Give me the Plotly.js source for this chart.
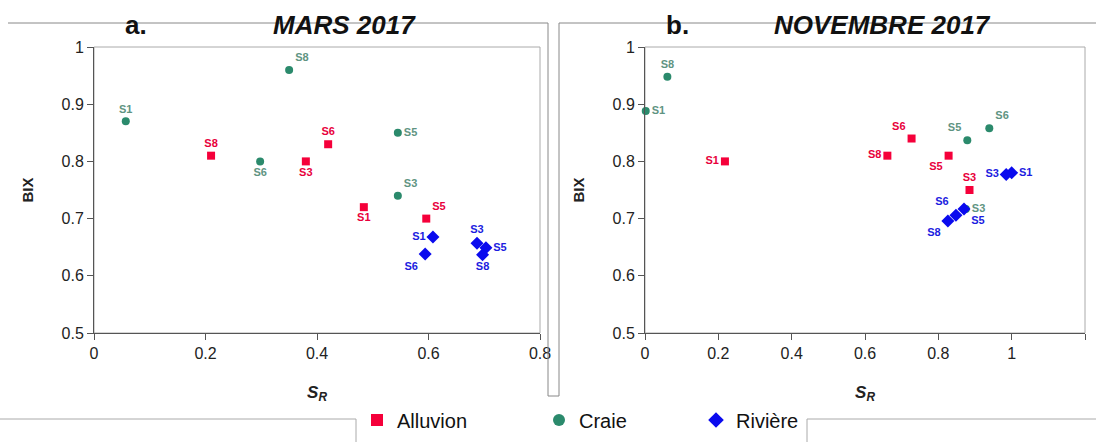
<!DOCTYPE html>
<html>
<head>
<meta charset="utf-8">
<script src="https://cdn.plot.ly/plotly-3.0.1.min.js"></script>
<style>html,body{margin:0;padding:0;background:#fff;}#chart{width:1096px;height:442px;}</style>
</head>
<body>
<div id="chart"></div>
<script>
// ---- Data ----
var siteLabels = ["S1", "S3", "S5", "S6", "S8"];

// a. MARS 2017
var marsAlluvionSR  = [0.484, 0.38, 0.596, 0.42, 0.21];
var marsAlluvionBIX = [0.72, 0.80, 0.70, 0.83, 0.81];
var marsCraieSR     = [0.057, 0.545, 0.545, 0.298, 0.35];
var marsCraieBIX    = [0.87, 0.74, 0.85, 0.80, 0.96];
var marsRiviereSR   = [0.608, 0.687, 0.703, 0.594, 0.697];
var marsRiviereBIX  = [0.668, 0.657, 0.649, 0.638, 0.637];

// b. NOVEMBRE 2017
var novAlluvionSR   = [0.218, 0.885, 0.828, 0.727, 0.661];
var novAlluvionBIX  = [0.80, 0.75, 0.81, 0.84, 0.81];
var novCraieSR      = [0.002, 0.875, 0.879, 0.939, 0.061];
var novCraieBIX     = [0.888, 0.717, 0.837, 0.858, 0.948];
var novRiviereSR    = [1.0, 0.985, 0.87, 0.848, 0.826];
var novRiviereBIX   = [0.78, 0.777, 0.717, 0.706, 0.696];

var seriesNames = ["Alluvion", "Craie", "Rivière"];
var panelTitles = ["MARS 2017", "NOVEMBRE 2017"];
var panelLetters = ["a.", "b."];
var yTickVals = [0.5, 0.6, 0.7, 0.8, 0.9, 1];
var yTickText = ["0.5", "0.6", "0.7", "0.8", "0.9", "1"];
var xTickValsA = [0, 0.2, 0.4, 0.6, 0.8];
var xTickTextA = ["0", "0.2", "0.4", "0.6", "0.8"];
var xTickValsB = [0, 0.2, 0.4, 0.6, 0.8, 1, 1.2];
var xTickTextB = ["0", "0.2", "0.4", "0.6", "0.8", "1", "1.2"];

// ---- Styles ----
var W = 1096, H = 442;
function px(x) { return x / W; }
function py(y) { return (H - y) / H; }

var styles = {
  "Alluvion": {marker: {symbol: "square", size: 8, color: "#f5003a"}, text: "#e8003c"},
  "Craie":    {marker: {symbol: "circle", size: 8, color: "#2b8a6c"}, text: "#5f9482"},
  "Rivière":  {marker: {symbol: "diamond", size: 10, color: "#0a0aee"}, text: "#1c1ce0"}
};
var legendIds = {"Alluvion": "legend", "Craie": "legend2", "Rivière": "legend3"};

var posMarsAlluvion = ["bottom center", "bottom center", "top right", "top center", "top center"];
var posMarsCraie    = ["top center", "top right", "middle right", "bottom center", "top right"];
var posMarsRiviere  = ["middle left", "top center", "middle right", "bottom left", "bottom center"];
var posNovAlluvion  = ["middle left", "top center", "bottom left", "top left", "middle left"];
var posNovCraie     = ["middle right", "middle right", "top left", "top right", "top center"];
var posNovRiviere   = ["middle right", "middle left", "bottom right", "top left", "bottom left"];

function trace(name, xs, ys, positions, xa, ya, showLegend) {
  var st = styles[name];
  return {
    type: "scatter", mode: "markers+text", name: name,
    x: xs, y: ys, text: siteLabels, textposition: positions,
    textfont: {family: "Liberation Sans, Arial, sans-serif", size: 11, color: st.text, weight: "bold"},
    marker: st.marker, xaxis: xa, yaxis: ya, cliponaxis: false,
    legendgroup: name, showlegend: showLegend, legend: legendIds[name],
    hoverinfo: "x+y+text"
  };
}

var data = [
  trace("Alluvion", marsAlluvionSR, marsAlluvionBIX, posMarsAlluvion, "x", "y", true),
  trace("Craie", marsCraieSR, marsCraieBIX, posMarsCraie, "x", "y", true),
  trace("Rivière", marsRiviereSR, marsRiviereBIX, posMarsRiviere, "x", "y", true),
  trace("Alluvion", novAlluvionSR, novAlluvionBIX, posNovAlluvion, "x2", "y2", false),
  trace("Craie", novCraieSR, novCraieBIX, posNovCraie, "x2", "y2", false),
  trace("Rivière", novRiviereSR, novRiviereBIX, posNovRiviere, "x2", "y2", false)
];

var tickFont = {family: "Liberation Sans, Arial, sans-serif", size: 16, color: "#222"};
var axisCommon = {
  showgrid: false, zeroline: false, showline: true, linecolor: "#555", linewidth: 1,
  ticks: "outside", ticklen: 6, tickcolor: "#555", tickfont: tickFont, tickmode: "array",
  fixedrange: true
};
function xTitle() {
  return {text: "<b><i>S</i></b><sub><b><i>R</i></b></sub>", font: {family: "Liberation Sans, Arial, sans-serif", size: 17, color: "#222"}, standoff: 24};
}
function yTitle() {
  return {text: "<b>BIX</b>", font: {family: "Liberation Sans, Arial, sans-serif", size: 15, color: "#222"}, standoff: 24};
}
function legendAt(xPix) {
  return {x: px(xPix), y: py(420), xanchor: "left", yanchor: "middle", orientation: "h",
          bgcolor: "rgba(0,0,0,0)", font: {size: 20, color: "#111"}, itemwidth: 30, itemsizing: "constant"};
}
function titleAnn(text, xPix) {
  return {text: text, x: px(xPix), y: py(25), xref: "paper", yref: "paper", xanchor: "center", yanchor: "middle",
          showarrow: false, font: {family: "Liberation Sans, Arial, sans-serif", size: 26, color: "#111"}};
}

var yDom = [py(333), py(47)];
var layout = {
  width: W, height: H,
  margin: {l: 0, r: 0, t: 0, b: 0},
  paper_bgcolor: "#fff", plot_bgcolor: "#fff",
  font: {family: "Liberation Sans, Arial, sans-serif"},
  xaxis: Object.assign({}, axisCommon, {domain: [px(94), px(540)], range: [0, 0.8], tickvals: xTickValsA, ticktext: xTickTextA, title: xTitle(), anchor: "y"}),
  yaxis: Object.assign({}, axisCommon, {domain: yDom, range: [0.5, 1], tickvals: yTickVals, ticktext: yTickText, title: yTitle(), anchor: "x"}),
  xaxis2: Object.assign({}, axisCommon, {domain: [px(645), px(1085)], range: [0, 1.2], tickvals: xTickValsB, ticktext: xTickTextB, title: xTitle(), anchor: "y2"}),
  yaxis2: Object.assign({}, axisCommon, {domain: yDom, range: [0.5, 1], tickvals: yTickVals, ticktext: yTickText, title: yTitle(), anchor: "x2"}),
  showlegend: true,
  legend: legendAt(357),
  legend2: legendAt(539),
  legend3: legendAt(696),
  annotations: [
    titleAnn("<b>" + panelLetters[0] + "</b>", 136),
    titleAnn("<b><i>" + panelTitles[0] + "</i></b>", 344),
    titleAnn("<b>" + panelLetters[1] + "</b>", 677),
    titleAnn("<b><i>" + panelTitles[1] + "</i></b>", 882)
  ],
  shapes: [
    // plot frames (top & right borders)
    {type: "rect", xref: "x domain", yref: "y domain", x0: 0, x1: 1, y0: 0, y1: 1, line: {color: "#aaa", width: 1}, layer: "below"},
    {type: "rect", xref: "x2 domain", yref: "y2 domain", x0: 0, x1: 1, y0: 0, y1: 1, line: {color: "#aaa", width: 1}, layer: "below"},
    // panel frames
    {type: "line", xref: "paper", yref: "paper", x0: px(8), x1: px(548), y0: py(23), y1: py(23), line: {color: "#888", width: 1}},
    {type: "path", xref: "paper", yref: "paper", path: "M " + px(548) + " " + py(23) + " L " + px(548) + " " + py(396) + " L " + px(559) + " " + py(396) + " L " + px(559) + " " + py(23) + " L 1 " + py(23), line: {color: "#888", width: 1}},
    {type: "path", xref: "paper", yref: "paper", path: "M 0 " + py(419) + " L " + px(356) + " " + py(419) + " L " + px(356) + " 0", line: {color: "#aaa", width: 1}},
    {type: "path", xref: "paper", yref: "paper", path: "M " + px(807) + " 0 L " + px(807) + " " + py(419) + " L 1 " + py(419), line: {color: "#aaa", width: 1}}
  ]
};

Plotly.newPlot("chart", data, layout, {displayModeBar: false, staticPlot: true});
</script>
</body>
</html>
